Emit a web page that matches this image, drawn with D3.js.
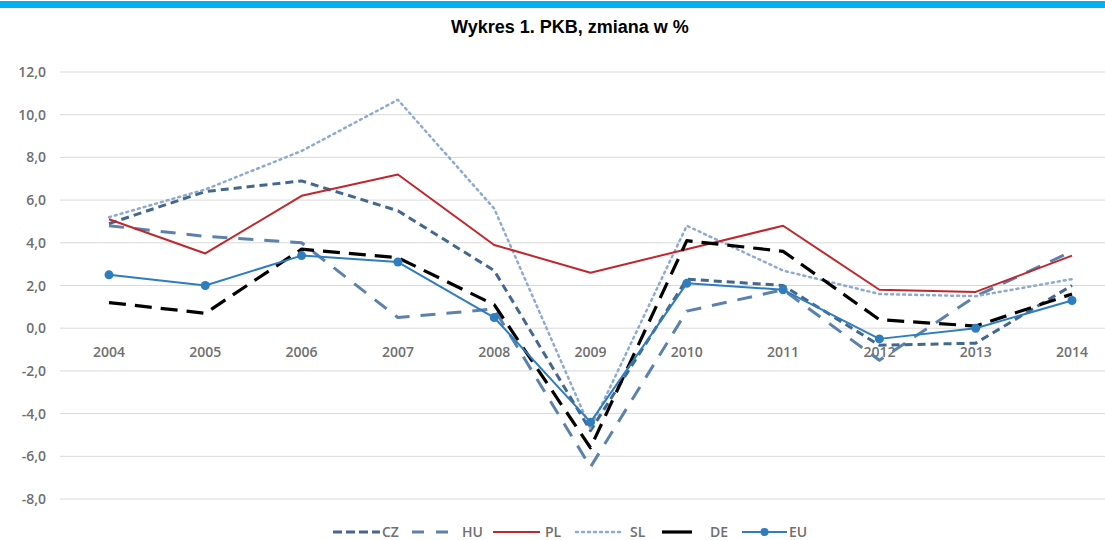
<!DOCTYPE html>
<html><head><meta charset="utf-8">
<script src="https://cdn.jsdelivr.net/npm/d3@7"></script>
<style>body{margin:0;background:#fff}svg{display:block}</style>
</head><body><svg id="c" width="1105" height="540"></svg>
<script>
const years = ["2004","2005","2006","2007","2008","2009","2010","2011","2012","2013","2014"];
const yTicks = [12,10,8,6,4,2,0,-2,-4,-6,-8];
const CZ = [4.9, 6.4, 6.9, 5.5, 2.7, -4.8, 2.3, 2.0, -0.8, -0.7, 2.0];
const HU = [4.8, 4.3, 4.0, 0.5, 0.9, -6.5, 0.8, 1.8, -1.5, 1.5, 3.6];
const PL = [5.1, 3.5, 6.2, 7.2, 3.9, 2.6, 3.7, 4.8, 1.8, 1.7, 3.4];
const SL = [5.2, 6.5, 8.3, 10.7, 5.6, -4.7, 4.8, 2.7, 1.6, 1.5, 2.3];
const DE = [1.2, 0.7, 3.7, 3.3, 1.1, -5.6, 4.1, 3.6, 0.4, 0.1, 1.6];
const EU = [2.5, 2.0, 3.4, 3.1, 0.5, -4.4, 2.1, 1.8, -0.5, 0.0, 1.3];
const seriesNames = ["CZ","HU","PL","SL","DE","EU"];

const svg = d3.select("#c");
const x = d3.scalePoint().domain(years).range([109, 1072]);
const y = d3.scaleLinear().domain([-8, 12]).range([499, 72]);

svg.append("rect").attr("x",0).attr("y",1).attr("width",1105).attr("height",7).attr("fill","#00b0f0");
svg.append("text").attr("x",570).attr("y",33).attr("text-anchor","middle")
  .attr("font-family","'Liberation Sans',Arial,sans-serif").attr("font-weight","bold")
  .attr("font-size",18).attr("fill","#000").text("Wykres 1. PKB, zmiana w %");

// grid
const g = svg.append("g");
g.selectAll("line.grid").data(yTicks).join("line")
  .attr("x1",60).attr("x2",1105).attr("y1",d=>y(d)).attr("y2",d=>y(d))
  .attr("stroke","#d9d9d9").attr("stroke-width",1);
const fmt = d => d.toFixed(1).replace(".", ",");
g.selectAll("text.yl").data(yTicks).join("text")
  .attr("x",46).attr("y",d=>y(d)+5).attr("text-anchor","end")
  .attr("font-family","'Open Sans',sans-serif").attr("font-weight",600).attr("font-size",14)
  .attr("fill","#6f6f6f").text(fmt);
g.selectAll("text.xl").data(years).join("text")
  .attr("x",d=>x(d)).attr("y",y(0)+29).attr("text-anchor","middle")
  .attr("font-family","'Open Sans',sans-serif").attr("font-weight",600).attr("font-size",14)
  .attr("fill","#6f6f6f").text(d=>d);

const styles = {
  CZ:{data:CZ,color:"#44678f",w:3,dash:"8,5"},
  HU:{data:HU,color:"#5b82ad",w:3,dash:"15,11"},
  PL:{data:PL,color:"#c0272d",w:2,dash:null},
  SL:{data:SL,color:"#8eaad0",w:2.5,dash:"2,4"},
  DE:{data:DE,color:"#000000",w:3.2,dash:"17,9"},
  EU:{data:EU,color:"#2e7dbf",w:2,dash:null}
};
const line = d3.line().x((d,i)=>x(years[i])).y(d=>y(d));
const order = ["HU","CZ","SL","PL","DE","EU"];
order.forEach(k=>{
  const s = styles[k];
  svg.append("path").datum(s.data).attr("d",line).attr("fill","none")
    .attr("stroke",s.color).attr("stroke-width",s.w)
    .attr("stroke-dasharray",s.dash).attr("stroke-linecap", k==="SL"?"round":"butt")
    .attr("stroke-linejoin","round");
});
svg.append("g").selectAll("circle").data(EU).join("circle")
  .attr("cx",(d,i)=>x(years[i])).attr("cy",d=>y(d)).attr("r",4.5).attr("fill",styles.EU.color);

// legend
const legendPos = {CZ:[333,380,382],HU:[412,456,462],PL:[493,540,545],SL:[576,624,630],DE:[662,692,710],EU:[742,787,789]};
const ly = 532;
const lg = svg.append("g");
seriesNames.forEach(k=>{
  const s = styles[k], p = legendPos[k];
  lg.append("line").attr("x1",p[0]).attr("x2",p[1]).attr("y1",ly).attr("y2",ly)
    .attr("stroke",s.color).attr("stroke-width",s.w)
    .attr("stroke-dasharray", k==="HU"?"12,12":k==="CZ"?"9,4":k==="SL"?"2,4":null)
    .attr("stroke-linecap", k==="SL"?"round":"butt");
  if(k==="EU") lg.append("circle").attr("cx",(p[0]+p[1])/2).attr("cy",ly).attr("r",4).attr("fill",s.color);
  lg.append("text").attr("x",p[2]).attr("y",ly+5).attr("font-family","'Open Sans',sans-serif")
    .attr("font-weight",600).attr("font-size",14).attr("fill","#6f6f6f").text(k);
});
</script></body></html>
